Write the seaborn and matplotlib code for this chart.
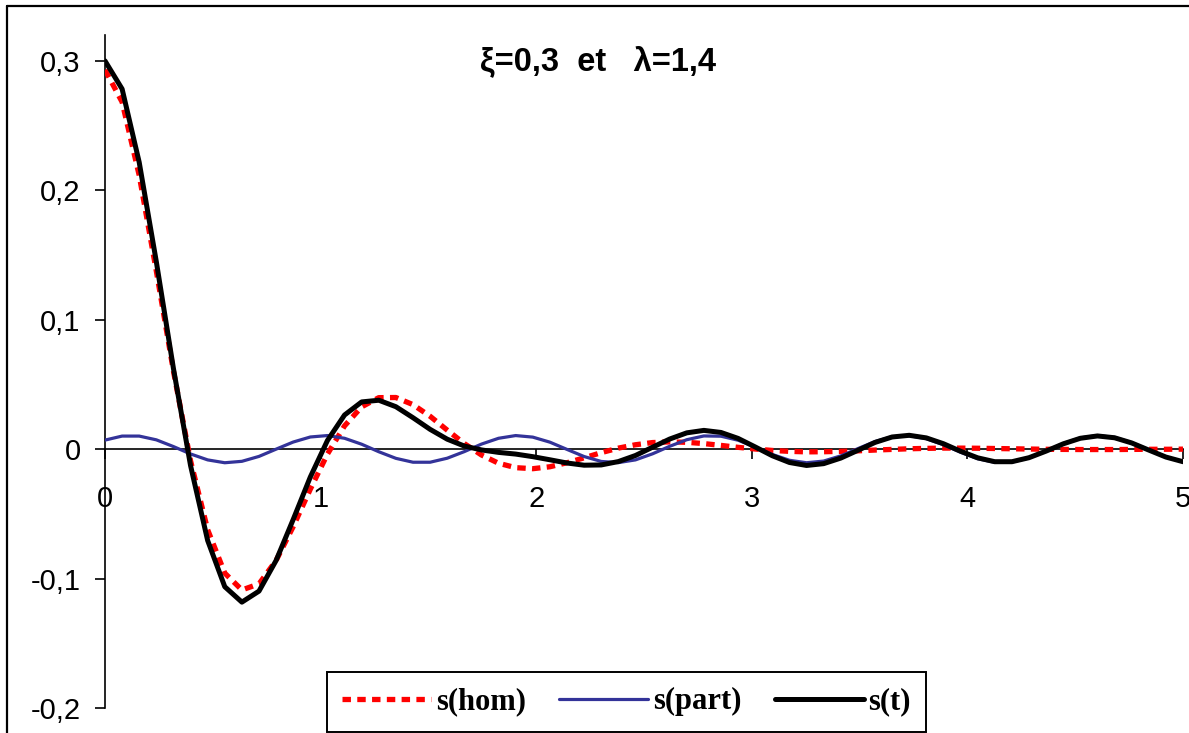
import numpy as np
import pandas as pd
import matplotlib
matplotlib.use("Agg")
import matplotlib.pyplot as plt
from matplotlib.lines import Line2D
import seaborn as sns

# Time grid: 64 samples from 0 to 5 s
t = np.linspace(0.0, 5.0, 64)

# Free (homogeneous) response
s_hom = [
    0.2931, 0.2682, 0.2115, 0.1376, 0.0603, -0.0090, -0.0623, -0.0958,
    -0.1088, -0.1041, -0.0860, -0.0598, -0.0309, -0.0038, 0.0180, 0.0327,
    0.0398, 0.0399, 0.0344, 0.0254, 0.0147, 0.0043, -0.0045, -0.0109,
    -0.0143, -0.0151, -0.0136, -0.0105, -0.0067, -0.0027, 0.0008, 0.0034,
    0.0051, 0.0056, 0.0053, 0.0043, 0.0029, 0.0014, 0.0001, -0.0010,
    -0.0017, -0.0021, -0.0020, -0.0017, -0.0013, -0.0007, -0.0002, 0.0003,
    0.0006, 0.0008, 0.0008, 0.0007, 0.0005, 0.0003, 0.0001, -0.0001,
    -0.0002, -0.0003, -0.0003, -0.0003, -0.0002, -0.0001, -0.0001, 0.0000,
]

# Forced (particular) response
s_part = [
    0.0070, 0.0101, 0.0101, 0.0072, 0.0020, -0.0037, -0.0083, -0.0105,
    -0.0094, -0.0056, 0.0000, 0.0055, 0.0094, 0.0105, 0.0084, 0.0038,
    -0.0020, -0.0071, -0.0101, -0.0101, -0.0070, -0.0019, 0.0039, 0.0084,
    0.0105, 0.0093, 0.0054, -0.0002, -0.0057, -0.0095, -0.0104, -0.0083,
    -0.0036, 0.0022, 0.0073, 0.0102, 0.0100, 0.0069, 0.0016, -0.0041,
    -0.0086, -0.0105, -0.0092, -0.0052, 0.0004, 0.0059, 0.0096, 0.0104,
    0.0081, 0.0034, -0.0024, -0.0074, -0.0102, -0.0100, -0.0067, -0.0014,
    0.0043, 0.0087, 0.0105, 0.0091, 0.0050, -0.0006, -0.0060, -0.0097,
]

# Total response
s_tot = [
    0.3000, 0.2783, 0.2216, 0.1448, 0.0623, -0.0127, -0.0706, -0.1063,
    -0.1182, -0.1097, -0.0860, -0.0543, -0.0215, 0.0067, 0.0264, 0.0365,
    0.0378, 0.0328, 0.0243, 0.0153, 0.0077, 0.0024, -0.0006, -0.0025,
    -0.0038, -0.0058, -0.0082, -0.0107, -0.0124, -0.0122, -0.0096, -0.0049,
    0.0015, 0.0078, 0.0126, 0.0145, 0.0129, 0.0083, 0.0017, -0.0051,
    -0.0103, -0.0126, -0.0112, -0.0069, -0.0009, 0.0052, 0.0094, 0.0107,
    0.0087, 0.0042, -0.0016, -0.0067, -0.0097, -0.0097, -0.0066, -0.0015,
    0.0041, 0.0084, 0.0102, 0.0088, 0.0048, -0.0007, -0.0061, -0.0097,
]

series_names = ["s(hom)", "s(part)", "s(t)"]
title_text = "ξ=0,3  et   λ=1,4"
x_ticks = [0, 1, 2, 3, 4, 5]
x_tick_labels = ["0", "1", "2", "3", "4", "5"]
y_ticks = [-0.2, -0.1, 0.0, 0.1, 0.2, 0.3]
y_tick_labels = ["-0,2", "-0,1", "0", "0,1", "0,2", "0,3"]

df = pd.DataFrame({"t": t, "hom": s_hom, "part": s_part, "tot": s_tot})

sns.set_theme(style="white")
plt.rcParams["font.family"] = ["Liberation Sans", "DejaVu Sans"]
plt.rcParams["text.color"] = "black"

W, H = 1189, 733
fig = plt.figure(figsize=(W / 100, H / 100), dpi=100)
fig.patch.set_facecolor("white")

ax = fig.add_axes([105 / W, (H - 708) / H, (1183 - 105) / W, (708 - 35) / H])
ax.set_facecolor("white")

sns.lineplot(data=df, x="t", y="hom", ax=ax, color="#ff0000", lw=3.8,
             linestyle=(0, (1.6, 1.2)), dash_capstyle="butt",
             label=series_names[0], zorder=3)
sns.lineplot(data=df, x="t", y="part", ax=ax, color="#333399", lw=2.3,
             label=series_names[1], zorder=4)
sns.lineplot(data=df, x="t", y="tot", ax=ax, color="black", lw=3.6,
             label=series_names[2], zorder=5)

ax.set_xlim(0, 5)
ax.set_ylim(-0.2, 0.32)
ax.set_xlabel("")
ax.set_ylabel("")

for side in ("top", "right"):
    ax.spines[side].set_visible(False)
ax.spines["bottom"].set_position(("data", 0))
for side in ("left", "bottom"):
    ax.spines[side].set_color("black")
    ax.spines[side].set_linewidth(1.2)
    ax.spines[side].set_zorder(2)
ax.spines["left"].set_bounds(-0.2, 0.32)

ax.set_xticks(x_ticks)
ax.set_xticklabels(x_tick_labels)
ax.set_yticks(y_ticks)
ax.set_yticklabels(y_tick_labels)
ax.tick_params(axis="both", which="major", direction="out", length=7,
               width=1.2, color="black", labelsize=21, labelcolor="black",
               bottom=True, left=True)
ax.tick_params(axis="x", pad=19)
ax.tick_params(axis="y", pad=10.5)
ax.grid(False)

leg = ax.get_legend()
if leg is not None:
    leg.remove()
handles, labels = ax.get_legend_handles_labels()
fig.legend(handles, labels, loc="upper left",
           bbox_to_anchor=(327 / W, 1 - 672 / H), bbox_transform=fig.transFigure,
           ncol=3, frameon=True, fancybox=False, shadow=False,
           edgecolor="black", facecolor="white", framealpha=1,
           borderaxespad=0, borderpad=0.5, handlelength=2.9,
           handletextpad=0.16, columnspacing=1.1,
           prop={"family": ["Liberation Serif", "DejaVu Serif"],
                 "weight": "bold", "size": 22})
fig.legends[0].get_frame().set_linewidth(1.4)

fig.text(598 / W, 1 - 70 / H, title_text, ha="center", va="baseline",
         fontsize=23.5, fontweight="bold", color="black",
         family=["Liberation Sans", "DejaVu Sans"])

# Outer chart frame (left and top edges)
fig.add_artist(Line2D([6.5 / W, 6.5 / W], [0, 1 - 6 / H],
                      transform=fig.transFigure, color="black", lw=1.6))
fig.add_artist(Line2D([6.5 / W, 1.0], [1 - 6 / H, 1 - 6 / H],
                      transform=fig.transFigure, color="black", lw=1.6))

fig.savefig("out.png", dpi=100, facecolor="white")
